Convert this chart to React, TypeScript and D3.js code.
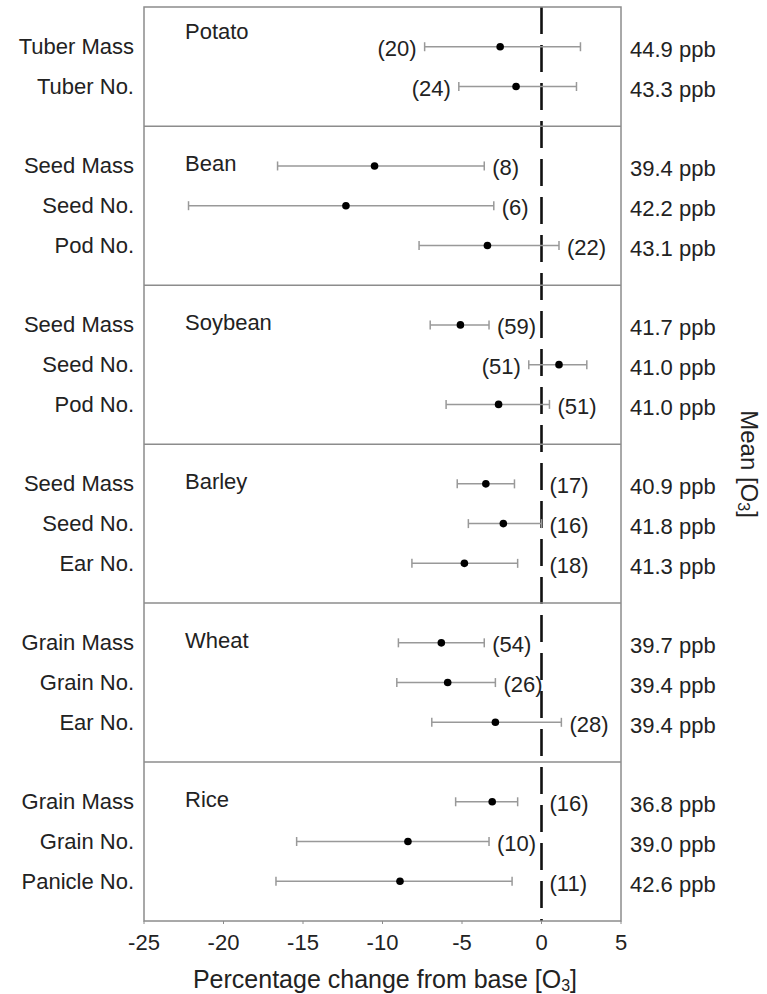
import { useEffect, useRef } from 'react';
import * as d3 from 'd3';

// crops, in panel order
const crops = ['Potato', 'Bean', 'Soybean', 'Barley', 'Wheat', 'Rice'];

// one entry per response row
const rowCrop = [0, 0, 1, 1, 1, 2, 2, 2, 3, 3, 3, 4, 4, 4, 5, 5, 5];
const rowLabels = [
  'Tuber Mass', 'Tuber No.',
  'Seed Mass', 'Seed No.', 'Pod No.',
  'Seed Mass', 'Seed No.', 'Pod No.',
  'Seed Mass', 'Seed No.', 'Ear No.',
  'Grain Mass', 'Grain No.', 'Ear No.',
  'Grain Mass', 'Grain No.', 'Panicle No.',
];
const effect = [-2.6, -1.6, -10.5, -12.3, -3.4, -5.1, 1.1, -2.7, -3.5, -2.4, -4.85, -6.3, -5.9, -2.9, -3.1, -8.4, -8.9];
const lower = [-7.35, -5.2, -16.6, -22.2, -7.7, -7.0, -0.8, -6.0, -5.3, -4.6, -8.15, -9.0, -9.1, -6.9, -5.4, -15.4, -16.7];
const upper = [2.45, 2.2, -3.6, -3.0, 1.1, -3.3, 2.85, 0.5, -1.7, 0, -1.5, -3.6, -2.9, 1.25, -1.5, -3.3, -1.85];
const nStudies = [20, 24, 8, 6, 22, 59, 51, 51, 17, 16, 18, 54, 26, 28, 16, 10, 11];
// where the (n) label sits: left of the bar, right of the bar, or right of the zero line
const nSide = ['left', 'left', 'right', 'right', 'right', 'right', 'left', 'right', 'zero', 'zero', 'zero', 'right', 'right', 'right', 'zero', 'right', 'zero'];
const meanO3 = ['44.9', '43.3', '39.4', '42.2', '43.1', '41.7', '41.0', '41.0', '40.9', '41.8', '41.3', '39.7', '39.4', '39.4', '36.8', '39.0', '42.6'];

const xTicks = [-25, -20, -15, -10, -5, 0, 5];

const W = 767;
const H = 994;
const FONT = 'Liberation Sans, Arial, sans-serif';
const TEXT = '#222';
const FS = 22;

export default function App() {
  const svgRef = useRef<SVGSVGElement>(null);

  useEffect(() => {
    if (!svgRef.current) return;
    const svg = d3.select(svgRef.current);
    svg.selectAll('*').remove();

    const x = d3.scaleLinear().domain([-25, 5]).range([144, 621]);

    // each panel gets (rows + 1) slots of equal height
    const counts = crops.map((_, c) => rowCrop.filter((r) => r === c).length);
    const panelStart: number[] = [];
    let acc = 0;
    counts.forEach((n) => {
      panelStart.push(acc);
      acc += n + 1;
    });
    const y = d3.scaleLinear().domain([0, acc]).range([7, 921]);

    const rowSlot = rowCrop.map((c, i) => {
      const j = rowCrop.slice(0, i).filter((r) => r === c).length;
      return panelStart[c] + 1 + j;
    });

    const g = svg.append('g').attr('font-family', FONT);

    // dashed zero line
    g.append('line')
      .attr('x1', x(0))
      .attr('x2', x(0))
      .attr('y1', y(0))
      .attr('y2', y(acc))
      .attr('stroke', '#111')
      .attr('stroke-width', 2.6)
      .attr('stroke-dasharray', '27 11');

    // panel dividers
    panelStart.slice(1).forEach((s) => {
      g.append('line')
        .attr('x1', x(-25))
        .attr('x2', x(5))
        .attr('y1', y(s))
        .attr('y2', y(s))
        .attr('stroke', '#8c8c8c')
        .attr('stroke-width', 1.5);
    });

    // frame
    g.append('rect')
      .attr('x', x(-25))
      .attr('y', y(0))
      .attr('width', x(5) - x(-25))
      .attr('height', y(acc) - y(0))
      .attr('fill', 'none')
      .attr('stroke', '#8c8c8c')
      .attr('stroke-width', 1.5);

    // crop names
    crops.forEach((name, c) => {
      g.append('text')
        .attr('x', 185)
        .attr('y', y(panelStart[c] + 1) - (c === 0 ? 15 : 2))
        .attr('dominant-baseline', 'central')
        .attr('font-size', FS)
        .attr('fill', TEXT)
        .text(name);
    });

    // error bars
    const rows = g.selectAll('g.row').data(rowSlot).join('g').attr('class', 'row');

    rows.append('line')
      .attr('x1', (_, i) => x(lower[i]))
      .attr('x2', (_, i) => x(upper[i]))
      .attr('y1', (s) => y(s))
      .attr('y2', (s) => y(s))
      .attr('stroke', '#999')
      .attr('stroke-width', 1.5);

    [lower, upper].forEach((arr) => {
      rows.append('line')
        .attr('x1', (_, i) => x(arr[i]))
        .attr('x2', (_, i) => x(arr[i]))
        .attr('y1', (s) => y(s) - 4.5)
        .attr('y2', (s) => y(s) + 4.5)
        .attr('stroke', '#999')
        .attr('stroke-width', 1.5);
    });

    rows.append('circle')
      .attr('cx', (_, i) => x(effect[i]))
      .attr('cy', (s) => y(s))
      .attr('r', 3.8)
      .attr('fill', '#000');

    // (n) labels
    rows.append('text')
      .attr('x', (_, i) => {
        if (nSide[i] === 'left') return x(lower[i]) - 8;
        if (nSide[i] === 'zero') return x(0) + 8;
        return x(upper[i]) + 8;
      })
      .attr('y', (s) => y(s) + 2)
      .attr('text-anchor', (_, i) => (nSide[i] === 'left' ? 'end' : 'start'))
      .attr('dominant-baseline', 'central')
      .attr('font-size', FS)
      .attr('fill', TEXT)
      .text((_, i) => `(${nStudies[i]})`);

    // response names
    rows.append('text')
      .attr('x', 134)
      .attr('y', (s) => y(s))
      .attr('text-anchor', 'end')
      .attr('dominant-baseline', 'central')
      .attr('font-size', FS)
      .attr('fill', TEXT)
      .text((_, i) => rowLabels[i]);

    // mean O3 on the right
    rows.append('text')
      .attr('x', 630)
      .attr('y', (s) => y(s) + 3)
      .attr('dominant-baseline', 'central')
      .attr('font-size', FS)
      .attr('fill', TEXT)
      .text((_, i) => `${meanO3[i]} ppb`);

    // x axis
    const axis = g.append('g').attr('transform', `translate(0,${y(acc)})`);
    axis.selectAll('line')
      .data(xTicks)
      .join('line')
      .attr('x1', (d) => x(d))
      .attr('x2', (d) => x(d))
      .attr('y1', 0)
      .attr('y2', 3)
      .attr('stroke', '#8c8c8c');
    axis.selectAll('text')
      .data(xTicks)
      .join('text')
      .attr('x', (d) => x(d))
      .attr('y', 21)
      .attr('text-anchor', 'middle')
      .attr('dominant-baseline', 'central')
      .attr('font-size', FS)
      .attr('fill', TEXT)
      .text((d) => d);

    const xt = g.append('text')
      .attr('x', 385)
      .attr('y', 979)
      .attr('text-anchor', 'middle')
      .attr('dominant-baseline', 'central')
      .attr('font-size', 25)
      .attr('fill', TEXT);
    xt.append('tspan').text('Percentage change from base [O');
    xt.append('tspan').attr('font-size', 16).attr('dy', 6).text('3');
    xt.append('tspan').attr('dy', -6).text(']');

    const yt = g.append('text')
      .attr('transform', `translate(750,${(y(0) + y(acc)) / 2}) rotate(90)`)
      .attr('text-anchor', 'middle')
      .attr('dominant-baseline', 'central')
      .attr('font-size', 24)
      .attr('fill', TEXT);
    yt.append('tspan').text('Mean [O');
    yt.append('tspan').attr('font-size', 16).attr('dy', 6).text('3');
    yt.append('tspan').attr('dy', -6).text(']');
  }, []);

  return (
    <svg
      ref={svgRef}
      width={W}
      height={H}
      style={{ position: 'absolute', left: 0, top: 0, background: '#fff' }}
    />
  );
}
